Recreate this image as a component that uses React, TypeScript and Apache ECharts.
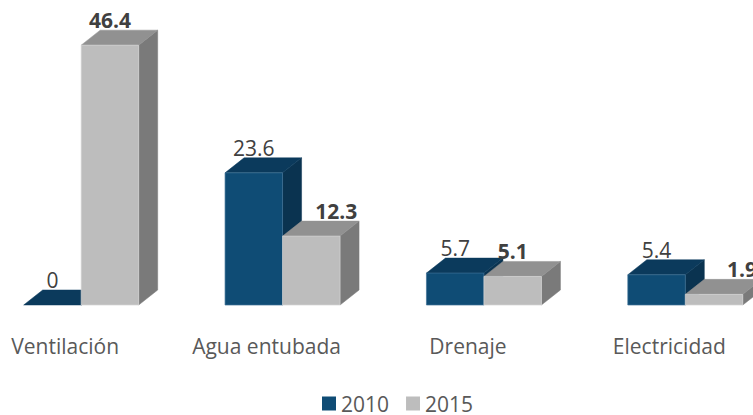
import React, { useEffect, useRef } from "react";
import * as echarts from "echarts";

const categories = ["Ventilación", "Agua entubada", "Drenaje", "Electricidad"];
const values2010 = [0, 23.6, 5.7, 5.4];
const values2015 = [46.4, 12.3, 5.1, 1.9];
const labelShift2015 = [0, 25, 0, 28];
const FONT = "'Open Sans', sans-serif";

const BAR_RATIO = 0.2855;
const DX = 19;
const DY = 15;

function bar3d(
  colors: { front: string; top: string; side: string; border: string },
  side: -1 | 1,
  bold: boolean,
  shifts: number[]
) {
  return (params: any, api: any) => {
    const idx = api.value(0);
    const val = api.value(1);
    const [cx, yTop] = api.coord([idx, val]);
    const [, yBase] = api.coord([idx, 0]);
    const w = api.size([1, 0])[0] * BAR_RATIO;
    const x0 = side < 0 ? cx - w : cx;
    const x1 = x0 + w;
    const poly = (points: number[][], fill: string) => ({
      type: "polygon",
      shape: { points },
      style: { fill, stroke: fill, lineWidth: 0.5 },
    });
    const children: any[] = [
      poly([[x1, yTop], [x1 + DX, yTop - DY], [x1 + DX, yBase - DY], [x1, yBase]], colors.side),
      poly([[x0, yTop], [x0 + DX, yTop - DY], [x1 + DX, yTop - DY], [x1, yTop]], colors.top),
    ];
    if (yBase - yTop > 0.5) {
      children.push({
        type: "rect",
        shape: { x: x0, y: yTop, width: w, height: yBase - yTop },
        style: { fill: colors.front, stroke: colors.border, lineWidth: 0.7 },
      });
    }
    children.push({
      type: "text",
      z2: 100,
      style: {
        text: String(val),
        x: (x0 + x1) / 2 + (shifts[idx] || 0),
        y: yTop - DY - 10,
        align: "center",
        verticalAlign: "middle",
        font: `${bold ? "bold " : ""}21px ${FONT}`,
        fill: "#404040",
      },
    });
    return { type: "group", children };
  };
}

export default function App() {
  const ref = useRef<HTMLDivElement>(null);
  useEffect(() => {
    document.body.style.margin = "0";
    const chart = echarts.init(ref.current!, undefined, { renderer: "svg" });
    chart.setOption({
      animation: false,
      backgroundColor: "#ffffff",
      textStyle: { fontFamily: FONT },
      legend: {
        top: 388,
        left: 337,
        itemWidth: 14,
        itemHeight: 14,
        itemGap: 17,
        icon: "rect",
        textStyle: { fontFamily: FONT, fontSize: 21, color: "#595959" },
        data: ["2010", "2015"],
      },
      grid: { left: 0.5, top: 25, width: 805.5, height: 280 },
      xAxis: {
        type: "category",
        data: categories,
        axisLine: { show: false },
        axisTick: { show: false },
        axisLabel: {
          fontFamily: FONT,
          fontSize: 21,
          color: "#595959",
          margin: 30,
          padding: [0, 32, 0, 0],
          interval: 0,
        },
      },
      yAxis: { type: "value", min: 0, max: 50, show: false },
      series: [
        {
          name: "2010",
          type: "custom",
          clip: false,
          itemStyle: { color: "#0F4C75" },
          renderItem: bar3d(
            { front: "#0F4C75", top: "#0B3A5C", side: "#0A3350", border: "#3F7196" },
            -1,
            false,
            []
          ),
          encode: { x: 0, y: 1 },
          data: values2010.map((v, i) => [i, v]),
        },
        {
          name: "2015",
          type: "custom",
          clip: false,
          itemStyle: { color: "#BDBDBD" },
          renderItem: bar3d(
            { front: "#BDBDBD", top: "#919191", side: "#7A7A7A", border: "#D4D4D4" },
            1,
            true,
            labelShift2015
          ),
          encode: { x: 0, y: 1 },
          data: values2015.map((v, i) => [i, v]),
        },
      ],
    });
    return () => chart.dispose();
  }, []);
  return (
    <div style={{ width: 753, height: 415, overflow: "hidden", position: "relative" }}>
      <div ref={ref} style={{ position: "absolute", left: -20, top: 0, width: 806, height: 415 }} />
    </div>
  );
}
